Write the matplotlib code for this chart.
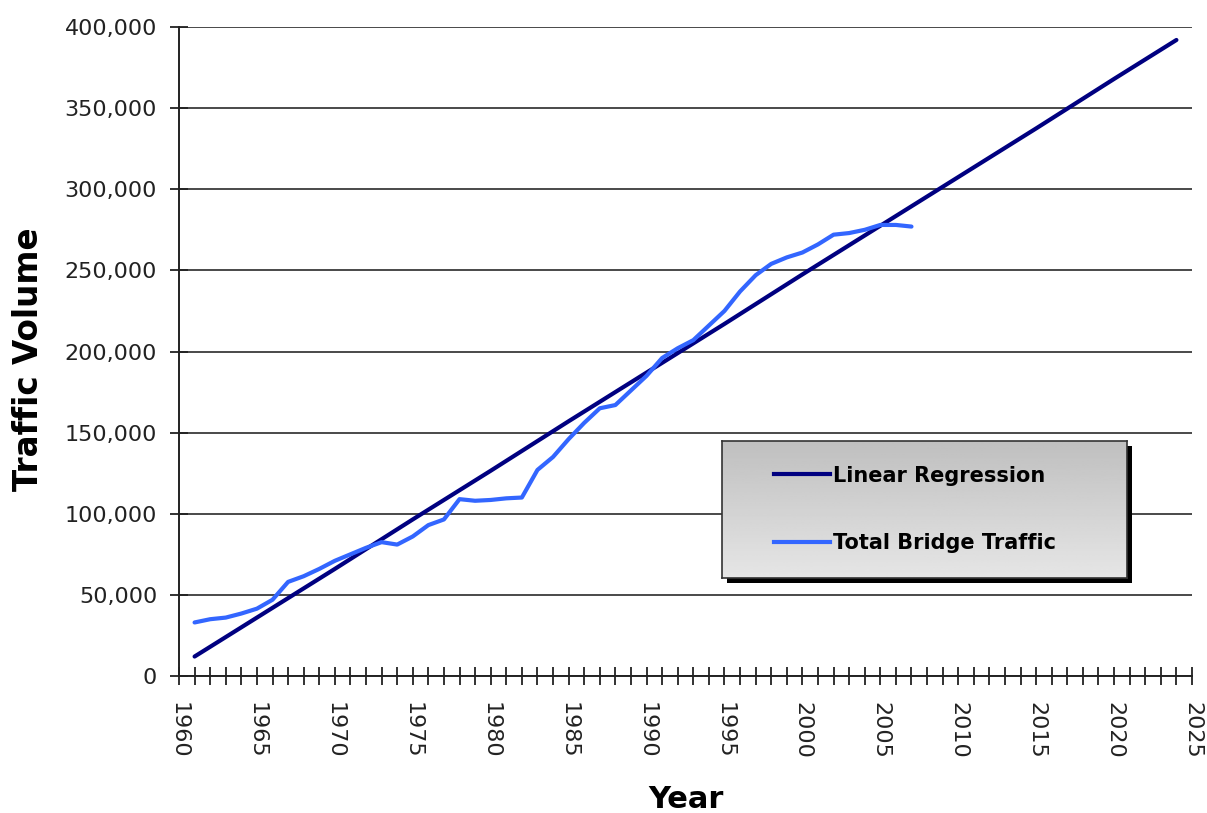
import numpy as np
import matplotlib.pyplot as plt
from matplotlib.lines import Line2D
from matplotlib.patches import Rectangle
from matplotlib.ticker import FuncFormatter, MultipleLocator

# regression line at each year
reg_years = [1961, 1965, 1970, 1975, 1980, 1985, 1990, 1995, 2000, 2005, 2010, 2015, 2020, 2024]
reg_values = [12000, 36000, 66000, 96500, 126500, 157000, 187000, 217000, 247500, 277500,
              307500, 337500, 368000, 392000]

traffic_years = list(range(1961, 2008))
traffic_values = [33000, 35000, 36000, 38500, 41500, 47000, 58000, 61500, 66000, 71000,
                  75000, 79000, 82500, 81000, 86000, 93000, 96500, 109000, 108000, 108500,
                  109500, 110000, 127000, 135000, 146000, 156000, 165000, 167000, 176000, 185000,
                  196000, 202000, 207000, 216000, 225000, 237000, 247000, 254000, 258000, 261000,
                  266000, 272000, 273000, 275000, 278000, 278000, 277000]

navy = '#000080'
blue = '#3366ff'

fig = plt.figure(figsize=(12.07, 8.13), dpi=100)
ax = fig.add_axes([179 / 1207, 1 - 676 / 813, 1013 / 1207, 649 / 813])

ax.plot(reg_years, reg_values, color=navy, lw=3, solid_capstyle='round', zorder=3)
ax.plot(traffic_years, traffic_values, color=blue, lw=3, solid_capstyle='round', zorder=3)

ax.set_xlim(1960, 2025)
ax.set_ylim(0, 400000)
ax.xaxis.set_major_locator(MultipleLocator(5))
ax.xaxis.set_minor_locator(MultipleLocator(1))
ax.yaxis.set_major_locator(MultipleLocator(50000))
ax.yaxis.set_major_formatter(FuncFormatter(lambda v, p: f'{int(v):,}'))
ax.grid(axis='y', color='#3a3a3a', lw=1.3)
ax.set_axisbelow(True)
for s in ['top', 'right']:
    ax.spines[s].set_visible(False)
for s in ['left', 'bottom']:
    ax.spines[s].set_color('#222222')
    ax.spines[s].set_linewidth(1.4)

ax.tick_params(axis='both', which='both', direction='inout', length=13.5, width=1.3,
               color='#222222', labelsize=16, labelcolor='#222222')
ax.tick_params(axis='y', pad=9)
ax.tick_params(axis='x', pad=12)
for lab in ax.get_xticklabels():
    lab.set_rotation(270)

ax.set_ylabel('Traffic Volume', fontsize=23.5, fontweight='bold')
ax.yaxis.set_label_coords(-0.132, 0.488)
ax.set_xlabel('Year', fontsize=22, fontweight='bold')
ax.xaxis.set_label_coords(0.5005, -0.168)

# legend box with gray gradient and drop shadow
bx, by, bw, bh = 722 / 1207, 1 - 578 / 813, 405 / 1207, 137 / 813
shadow = Rectangle((bx + 5 / 1207, by - 5 / 813), bw, bh, transform=fig.transFigure,
                   facecolor='black', edgecolor='none', zorder=0.5)
fig.patches.append(shadow)
box = fig.add_axes([bx, by, bw, bh], zorder=1)
grad = np.linspace(0.75, 0.9, 100).reshape(-1, 1)
box.imshow(grad, cmap='gray', vmin=0, vmax=1, aspect='auto', extent=[0, 1, 0, 1], origin='upper')
box.set_xticks([])
box.set_yticks([])
for s in box.spines.values():
    s.set_color('#333333')
    s.set_linewidth(1.2)

handles = [Line2D([], [], color=navy, lw=3), Line2D([], [], color=blue, lw=3)]
box.legend(handles, ['Linear Regression', 'Total Bridge Traffic'], loc='center left',
           bbox_to_anchor=(0.128, 0.5), frameon=False, borderpad=0, borderaxespad=0,
           handlelength=2.7, handletextpad=0.15, labelspacing=2.3,
           prop={'size': 15, 'weight': 'bold'})

fig.savefig('out.png', dpi=100)
